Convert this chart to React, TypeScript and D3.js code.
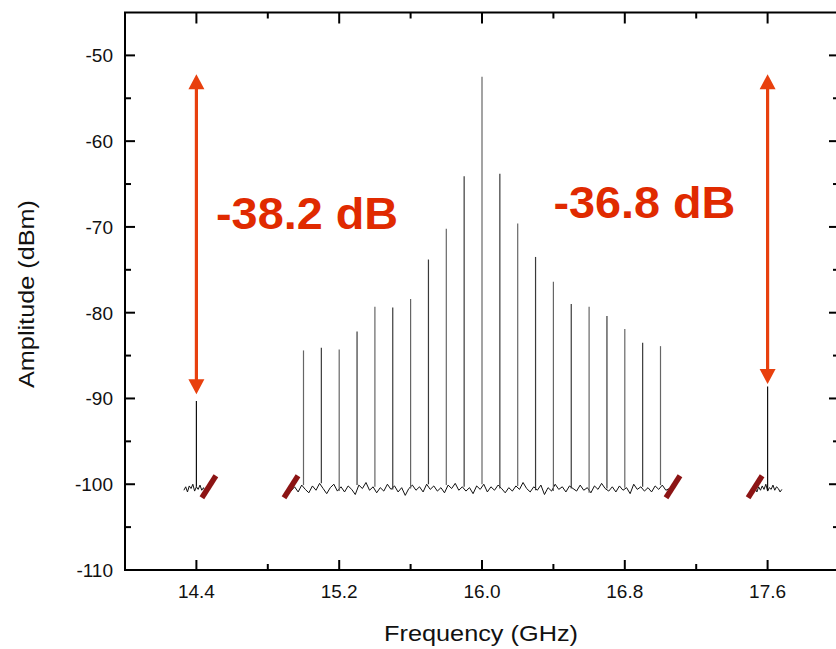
import React from "react";
import * as d3 from "d3";

// ---- Data ----
const peakFreqs = [14.4, 15.0, 15.1, 15.2, 15.3, 15.4, 15.5, 15.6, 15.7, 15.8, 15.9, 16.0, 16.1, 16.2, 16.3, 16.4, 16.5, 16.6, 16.7, 16.8, 16.9, 17.0, 17.6];
const peakLevels = [-90.3, -84.4, -84.1, -84.3, -82.2, -79.3, -79.4, -78.4, -73.8, -70.2, -64.1, -52.5, -63.8, -69.6, -73.5, -76.4, -79.0, -79.3, -80.4, -81.9, -83.5, -83.9, -88.6];

const noiseMainStart = 14.93;
const noiseMainStep = 0.02;
const noiseMain = [
  -100.8, -100.3, -100.9, -100.1, -100.6, -101.0, -100.2, -100.7, -99.9, -100.5,
  -101.1, -100.4, -100.0, -100.8, -100.3, -100.9, -100.2, -100.6, -101.2, -100.1,
  -100.5, -99.8, -100.7, -100.3, -101.0, -100.4, -100.8, -100.0, -100.6, -100.2,
  -100.9, -100.4, -101.3, -100.5, -100.1, -100.7, -100.3, -100.9, -100.0, -100.6,
  -100.2, -100.8, -100.4, -101.0, -100.1, -100.5, -99.9, -100.7, -100.3, -100.8,
  -100.4, -101.1, -100.2, -100.6, -100.0, -100.9, -100.3, -100.7, -100.1, -100.5,
  -101.0, -100.4, -100.8, -100.2, -100.6, -99.8, -100.5, -100.9, -100.3, -100.7,
  -100.1, -101.2, -100.4, -100.8, -100.0, -100.6, -100.3, -100.9, -100.2, -100.5,
  -100.8, -100.1, -100.7, -100.4, -101.0, -100.2, -100.6, -99.9, -100.5, -100.8,
  -100.3, -100.9, -100.2, -100.7, -100.4, -101.1, -100.0, -100.6, -100.3, -100.8,
  -100.4, -100.9, -100.2, -100.6, -100.1, -100.7, -100.5,
];
const noiseLeftStart = 14.33;
const noiseLeftStep = 0.01;
const noiseLeft = [-100.7, -100.3, -100.9, -100.2, -100.5, -100.0, -100.8, -100.3, -100.6, -100.1, -100.7, -100.4, -100.9, -100.5];
const noiseRightStart = 17.53;
const noiseRightStep = 0.01;
const noiseRight = [-100.5, -100.9, -100.3, -100.7, -100.2, -100.6, -100.0, -100.8, -100.4, -100.6, -100.1, -100.7, -100.3, -100.5, -100.9, -100.6];

const breakFreqs = [14.47, 14.93, 17.07, 17.53];
const breakLevel = -100.3;

const xMajorTicks = [14.4, 15.2, 16.0, 16.8, 17.6];
const xMinorTicks = [14.8, 15.6, 16.4, 17.2];
const yMajorTicks = [-50, -60, -70, -80, -90, -100, -110];
const yMinorTicks = [-55, -65, -75, -85, -95, -105];

const arrowFreqs = [14.4, 17.6];
const arrowTops = [-52.2, -52.2];
const arrowBottoms = [-89.5, -88.3];
const annotTexts = ["-38.2 dB", "-36.8 dB"];
const annotFreqs = [14.51, 16.4];
const annotLevels = [-70.2, -69.0];

const xLabel = "Frequency (GHz)";
const yLabel = "Amplitude (dBm)";

const W = 836, H = 649;
const L = 125, R = 839, T = 12.5, B = 570;

export default function App() {
  const x = d3.scaleLinear().domain([14.0, 18.0]).range([L, R]);
  const y = d3.scaleLinear().domain([-110, -45]).range([B, T]);

  const line = d3.line<[number, number]>().x(d => x(d[0])).y(d => y(d[1]));
  const seg = (start: number, step: number, arr: number[]) =>
    line(arr.map((v, i) => [start + i * step, v] as [number, number])) || "";

  const noiseFloorAt = (f: number) => {
    let best = -100.5;
    let bd = 1e9;
    const check = (start: number, step: number, arr: number[]) =>
      arr.forEach((v, i) => {
        const d = Math.abs(start + i * step - f);
        if (d < bd) { bd = d; best = v; }
      });
    check(noiseMainStart, noiseMainStep, noiseMain);
    check(noiseLeftStart, noiseLeftStep, noiseLeft);
    check(noiseRightStart, noiseRightStep, noiseRight);
    return best;
  };

  const arrowColor = "#e8400e";
  const textColor = "#e02a00";
  const breakColor = "#8c1414";
  const font = "Arial, 'Liberation Sans', Helvetica, sans-serif";

  return (
    <svg width={W} height={H} style={{ position: "absolute", left: 0, top: 0, background: "#fff" }}>
      <rect x={0} y={0} width={W} height={H} fill="#fff" />

      {/* noise */}
      <g fill="none" stroke="#111" strokeWidth={1} strokeLinejoin="round">
        <path d={seg(noiseLeftStart, noiseLeftStep, noiseLeft)} />
        <path d={seg(noiseMainStart, noiseMainStep, noiseMain)} />
        <path d={seg(noiseRightStart, noiseRightStep, noiseRight)} />
      </g>

      {/* peaks */}
      <g>
        {peakFreqs.map((f, i) => (
          <line key={i} x1={x(f)} x2={x(f)} y1={y(noiseFloorAt(f))} y2={y(peakLevels[i])}
            stroke={i === 0 || i === peakFreqs.length - 1 ? "#111" : (i % 2 === 0 ? "#3a3a3a" : "#666")}
            strokeWidth={1.2} />
        ))}
      </g>

      {/* axis break marks */}
      <g>
        {breakFreqs.map((f, i) => (
          <line key={i}
            x1={x(f) - 7} y1={y(breakLevel) + 11}
            x2={x(f) + 7} y2={y(breakLevel) - 11}
            stroke={breakColor} strokeWidth={5.5} />
        ))}
      </g>

      {/* frame */}
      <rect x={L} y={T} width={R - L} height={B - T} fill="none" stroke="#000" strokeWidth={2} />

      {/* ticks */}
      <g stroke="#000" strokeWidth={2}>
        {xMajorTicks.map((t, i) => (
          <g key={"xm" + i}>
            <line x1={x(t)} x2={x(t)} y1={B} y2={B - 10} />
            <line x1={x(t)} x2={x(t)} y1={T} y2={T + 11} />
          </g>
        ))}
        {xMinorTicks.map((t, i) => (
          <g key={"xn" + i}>
            <line x1={x(t)} x2={x(t)} y1={B} y2={B - 6} />
            <line x1={x(t)} x2={x(t)} y1={T} y2={T + 6} />
          </g>
        ))}
        {yMajorTicks.map((t, i) => (
          <g key={"ym" + i}>
            <line x1={L} x2={L + 10} y1={y(t)} y2={y(t)} />
            <line x1={R} x2={R - 10} y1={y(t)} y2={y(t)} />
          </g>
        ))}
        {yMinorTicks.map((t, i) => (
          <g key={"yn" + i}>
            <line x1={L} x2={L + 6} y1={y(t)} y2={y(t)} />
            <line x1={R} x2={R - 6} y1={y(t)} y2={y(t)} />
          </g>
        ))}
      </g>

      {/* tick labels */}
      <g fontFamily={font} fontSize={19} fill="#111">
        {xMajorTicks.map((t, i) => (
          <text key={"xl" + i} x={x(t)} y={B + 28} textAnchor="middle">{t.toFixed(1)}</text>
        ))}
        {yMajorTicks.map((t, i) => (
          <text key={"yl" + i} x={L - 12} y={y(t) + 7} textAnchor="end">{String(t)}</text>
        ))}
      </g>

      {/* axis titles */}
      <text x={(L + R) / 2 - 1} y={641} textAnchor="middle" fontFamily={font} fontSize={22} fill="#111"
        textLength={194} lengthAdjust="spacingAndGlyphs">{xLabel}</text>
      <text transform={`translate(34,294) rotate(-90)`} textAnchor="middle" fontFamily={font} fontSize={22} fill="#111"
        textLength={188} lengthAdjust="spacingAndGlyphs">{yLabel}</text>

      {/* arrows */}
      <g>
        {arrowFreqs.map((f, i) => {
          const cx = x(f);
          const yt = y(arrowTops[i]);
          const yb = y(arrowBottoms[i]);
          const hh = 15, hw = 8;
          return (
            <g key={"ar" + i} fill={arrowColor} stroke="none">
              <line x1={cx} x2={cx} y1={yt + hh - 1} y2={yb - hh + 1} stroke={arrowColor} strokeWidth={3.2} />
              <path d={`M${cx},${yt} L${cx - hw},${yt + hh} L${cx + hw},${yt + hh} Z`} />
              <path d={`M${cx},${yb} L${cx - hw},${yb - hh} L${cx + hw},${yb - hh} Z`} />
            </g>
          );
        })}
      </g>

      {/* annotations */}
      {annotTexts.map((s, i) => (
        <text key={"an" + i} x={x(annotFreqs[i])} y={y(annotLevels[i])} fontFamily={font} fontWeight="bold"
          fontSize={45} fill={textColor} textLength={182} lengthAdjust="spacingAndGlyphs">{s}</text>
      ))}
    </svg>
  );
}
